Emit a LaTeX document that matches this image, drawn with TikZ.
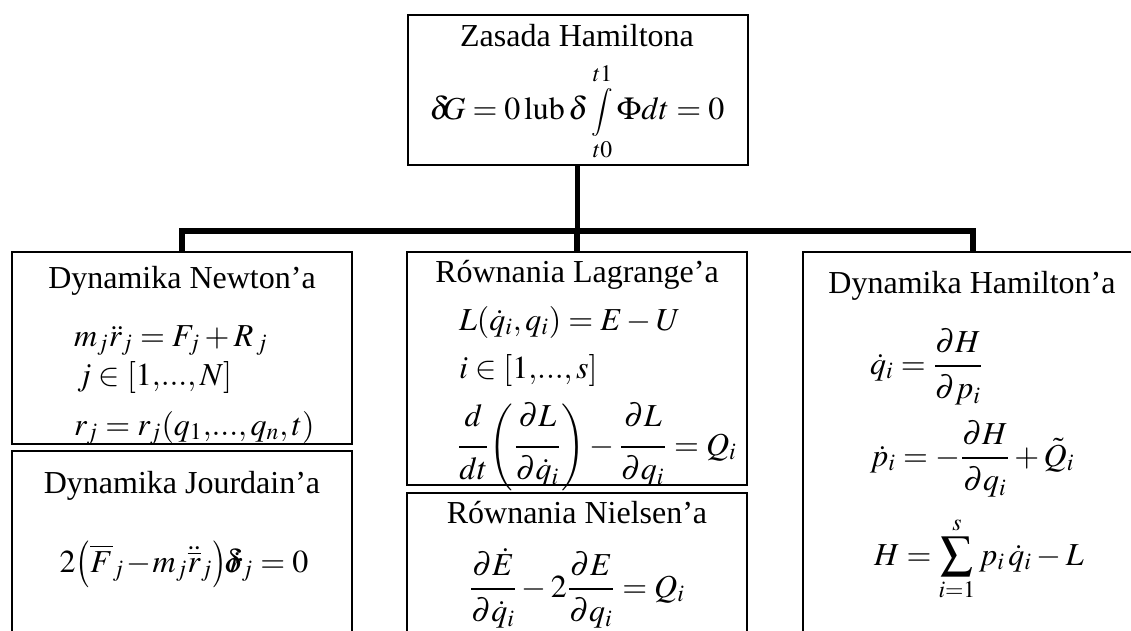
\documentclass[tikz,border=0pt]{standalone}
\usepackage{amsmath}
\usepackage{graphicx}
\usepackage{mathptmx}
\usepackage[no-math]{fontspec}
\setmainfont{Liberation Serif}
\usepackage{tikz}

\thickmuskip=4mu plus 2mu
\medmuskip=2.5mu plus 1mu
% fraction with the denominator set lower, numerator optionally raised
\newcommand\wfrac[3][0pt]{\frac{#2\rule[-#1]{0pt}{#1}}{\rule{0pt}{14pt}#3}}
% taller parentheses: stretch factor, delimiter
\newcommand\tallparen[2]{\vcenter{\hbox{\scalebox{1}[#1]{$#2$}}}}
\newcommand\actint{\mathop{\vcenter{\hbox{\scalebox{0.75}{$\displaystyle\int$}}}}}

\tikzset{
  box/.style={draw, line width=1pt, minimum width=170pt, inner sep=0pt},
  trunk/.style={line width=2.8pt},
  title/.style={anchor=base, font=\fontsize{16}{19}\selectfont},
  eq/.style={anchor=base west, font=\fontsize{16}{19}\selectfont},
  eqc/.style={anchor=base, font=\fontsize{16}{19}\selectfont}
}

\begin{document}
\begin{tikzpicture}[x=0.5pt,y=-0.5pt]
  \clip (0,0) rectangle (1131,631);
  % boxes
  \node[box, minimum height=75pt] (zasada) at (577.5,90) {};
  \node[box, minimum height=96pt] (newton) at (182,348) {};
  \node[box, minimum height=124pt] (jourdain) at (182,575) {};
  \node[box, minimum height=116.5pt] (lagrange) at (577,368.5) {};
  \node[box, minimum height=103.5pt] (nielsen) at (577,596.5) {};
  \node[box, minimum height=224pt] (hamilton) at (973,476) {};

  % connectors
  \coordinate (bus) at (577,231);
  \draw[trunk] (zasada.south) -- (zasada.south |- bus);
  \draw[trunk] (newton.north) -- (newton.north |- bus) -- (hamilton.north |- bus) -- (hamilton.north);
  \draw[trunk] (lagrange.north) -- (lagrange.north |- bus);

  % Hamilton principle
  \node[title] (zasadaT) at (577,47) {Zasada Hamiltona};
  \node[eqc] (zasadaE) at (577,120) {$\delta\mkern-4mu G = 0\,\mathrm{lub}\,\delta\actint\limits_{t0}^{t1}\Phi dt = 0$};

  % Newton
  \node[title] (newtonT) at (182,288) {Dynamika Newton’a};
  \node[eq] (newton1) at (67,346) {$m_j\ddot{r}_j = F_j + R_{\,j}$};
  \node[eq] (newton2) at (70,385) {$j\in[1,\!...,N]$};
  \node[eq] (newton3) at (67,435) {$r_j = r_j(q_1,\!...,q_n,t)$};

  % Jourdain
  \node[title] (jourdainT) at (182,493) {Dynamika Jourdain’a};
  \node[eqc] (jourdainE) at (184,572) {$\medmuskip=1mu 2\mathopen{\tallparen{1.22}{\bigl(}}\overline{F}_j - m_j\ddot{\overline{r}}_j\mathclose{\tallparen{1.22}{\bigr)}}\mkern-2mu\delta\mkern-8mu\dot{r}_j = 0$};

  % Lagrange
  \node[title] (lagrangeT) at (577,282) {Równania Lagrange’a};
  \node[eq] (lagrange1) at (452,330) {$L(\dot{q}_i,q_i) = E - U$};
  \node[eq] (lagrange2) at (452,378) {$i\in[1,\!...,s]$};
  \node[eq] (lagrange3) at (450,455) {$\displaystyle\wfrac[8pt]{d}{dt}\mathopen{\tallparen{1.13}{\biggl(}}\wfrac[8pt]{\partial L}{\partial\dot{q}_i}\mathclose{\tallparen{1.13}{\biggr)}} - \wfrac[8pt]{\partial L}{\partial q_i} = Q_i$};

  % Nielsen
  \node[title] (nielsenT) at (577,523) {Równania Nielsen’a};
  \node[eqc] (nielsenE) at (577,597) {$\displaystyle\wfrac{\partial\dot{E}}{\partial\dot{q}_i} - 2\wfrac{\partial E}{\partial q_i} = Q_i$};

  % Hamilton
  \node[title] (hamiltonT) at (972,293) {Dynamika Hamilton’a};
  \node[eq] (hamilton1) at (863,374) {$\displaystyle\dot{q}_i = \wfrac{\partial H}{\partial p_i}$};
  \node[eq] (hamilton2) at (863,466) {$\displaystyle\dot{p}_i = -\wfrac{\partial H}{\partial q_i} + \tilde{Q}_i$};
  \node[eq] (hamilton3) at (867,565) {$\displaystyle H = \sum_{i=1}^{s} p_i\,\dot{q}_i - L$};
\end{tikzpicture}
\end{document}
